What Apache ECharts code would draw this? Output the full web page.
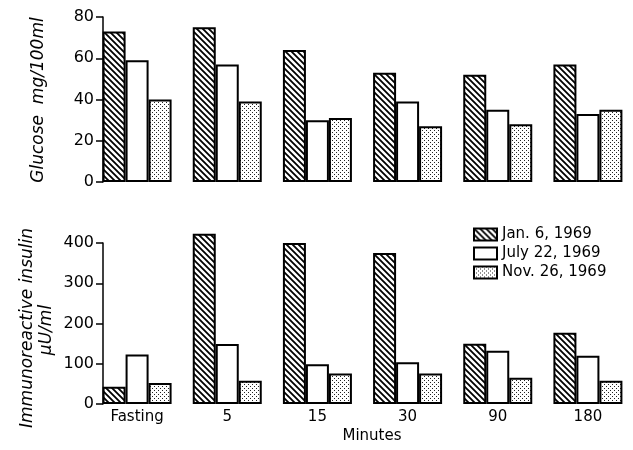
<!DOCTYPE html>
<html>
<head>
<meta charset="utf-8">
<script src="https://cdn.jsdelivr.net/npm/echarts@6/dist/echarts.min.js"></script>
<style>
  html, body { margin: 0; padding: 0; background: #fff; }
  #main { width: 633px; height: 450px; }
</style>
</head>
<body>
<div id="main"></div>
<script>
// categories and values
var minutes = ['Fasting', '5', '15', '30', '90', '180'];
var seriesNames = ['Jan. 6, 1969', 'July 22, 1969', 'Nov. 26, 1969'];

var glucoseJan = [73, 75, 64, 53, 52, 57];
var glucoseJuly = [59, 57, 30, 39, 35, 33];
var glucoseNov = [40, 39, 31, 27, 28, 35];

var insulinJan = [43, 423, 400, 375, 150, 177];
var insulinJuly = [123, 149, 99, 104, 132, 120];
var insulinNov = [52, 58, 76, 76, 65, 58];

var glucoseTicks = [0, 20, 40, 60, 80];
var insulinTicks = [0, 100, 200, 300, 400];

var FONT = 'DejaVu Sans';

// hatch pattern  \\\\
function hatchPattern() {
  var c = document.createElement('canvas');
  c.width = 6; c.height = 6;
  var g = c.getContext('2d');
  g.fillStyle = '#fff';
  g.fillRect(0, 0, 6, 6);
  g.strokeStyle = '#000';
  g.lineWidth = 1.8;
  g.beginPath();
  g.moveTo(-1, -1); g.lineTo(7, 7);
  g.moveTo(-1, 5); g.lineTo(1, 7);
  g.moveTo(5, -1); g.lineTo(7, 1);
  g.stroke();
  return c;
}

// stipple pattern
function dotPattern() {
  var c = document.createElement('canvas');
  c.width = 4; c.height = 4;
  var g = c.getContext('2d');
  g.fillStyle = '#fff';
  g.fillRect(0, 0, 4, 4);
  g.fillStyle = '#222';
  g.fillRect(0, 0, 1, 1);
  g.fillRect(2, 2, 1, 1);
  return c;
}

var fills = [
  { image: hatchPattern(), repeat: 'repeat' },
  '#fff',
  { image: dotPattern(), repeat: 'repeat' }
];

function makeBar(name, data, idx, fill) {
  return {
    name: name,
    type: 'bar',
    xAxisIndex: idx,
    yAxisIndex: idx,
    data: data,
    barWidth: 23,
    barGap: '0%',
    clip: false,
    animation: false,
    itemStyle: { color: fill, borderColor: '#000', borderWidth: 2 }
  };
}

function yAxis(idx, ticks) {
  return {
    type: 'value',
    gridIndex: idx,
    min: ticks[0],
    max: ticks[ticks.length - 1],
    interval: ticks[1] - ticks[0],
    offset: -11,
    axisLine: { show: true, lineStyle: { color: '#000', width: 1.5 } },
    axisTick: { show: true, length: 7, lineStyle: { color: '#000', width: 1.5 } },
    axisLabel: { color: '#000', fontFamily: FONT, fontSize: 16, margin: 9 },
    splitLine: { show: false }
  };
}

function xAxis(idx, showLabels) {
  return {
    type: 'category',
    gridIndex: idx,
    data: minutes,
    axisLine: { show: false },
    axisTick: { show: false },
    axisLabel: { show: showLabels, color: '#000', fontFamily: FONT, fontSize: 15, margin: 6 }
  };
}

var chart = echarts.init(document.getElementById('main'), null, { renderer: 'canvas' });

var option = {
  backgroundColor: '#fff',
  animation: false,
  grid: [
    { left: 92, top: 17, width: 546, height: 165 },
    { left: 92, top: 243, width: 546, height: 161 }
  ],
  xAxis: [xAxis(0, false), xAxis(1, true)],
  yAxis: [yAxis(0, glucoseTicks), yAxis(1, insulinTicks)],
  legend: {
    orient: 'vertical',
    left: 468,
    top: 222,
    itemWidth: 23,
    itemHeight: 12,
    itemGap: 4,
    icon: 'rect',
    data: seriesNames,
    textStyle: { color: '#000', fontFamily: FONT, fontSize: 15 }
  },
  graphic: [
    {
      type: 'text', x: 39, y: 100, rotation: Math.PI / 2,
      style: { text: 'Glucose  mg/100ml', fontFamily: FONT, fontSize: 17, fontStyle: 'italic', fill: '#000', align: 'center', verticalAlign: 'middle' }
    },
    {
      type: 'text', x: 28, y: 328, rotation: Math.PI / 2,
      style: { text: 'Immunoreactive insulin', fontFamily: FONT, fontSize: 17, fontStyle: 'italic', fill: '#000', align: 'center', verticalAlign: 'middle' }
    },
    {
      type: 'text', x: 47, y: 330, rotation: Math.PI / 2,
      style: { text: 'μU/ml', fontFamily: FONT, fontSize: 17, fontStyle: 'italic', fill: '#000', align: 'center', verticalAlign: 'middle' }
    },
    {
      type: 'text', x: 372, y: 436,
      style: { text: 'Minutes', fontFamily: FONT, fontSize: 15, fill: '#000', align: 'center', verticalAlign: 'middle' }
    }
  ],
  series: [
    makeBar(seriesNames[0], glucoseJan, 0, fills[0]),
    makeBar(seriesNames[1], glucoseJuly, 0, fills[1]),
    makeBar(seriesNames[2], glucoseNov, 0, fills[2]),
    makeBar(seriesNames[0], insulinJan, 1, fills[0]),
    makeBar(seriesNames[1], insulinJuly, 1, fills[1]),
    makeBar(seriesNames[2], insulinNov, 1, fills[2])
  ]
};

chart.setOption(option);
</script>
</body>
</html>
